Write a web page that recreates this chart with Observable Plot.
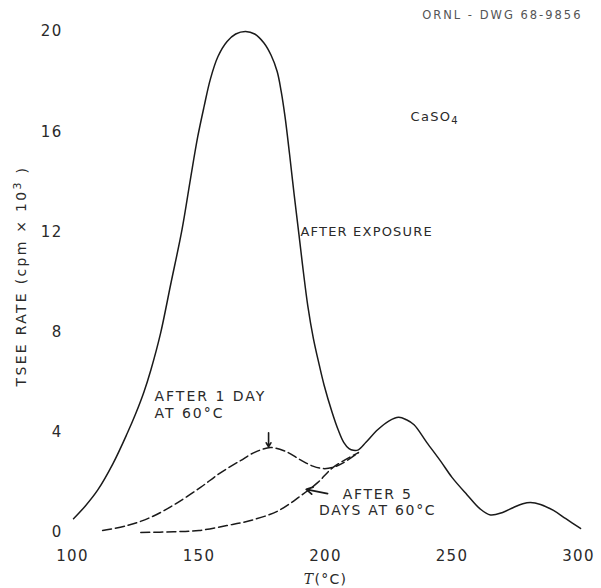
<!DOCTYPE html>
<html>
<head>
<meta charset="utf-8">
<script src="https://cdn.jsdelivr.net/npm/d3@7"></script>
<script src="https://cdn.jsdelivr.net/npm/@observablehq/plot@0.6"></script>
<style>
  html, body { margin: 0; padding: 0; background: white; }
</style>
</head>
<body>
<div id="chart"></div>
<script>
// Tick values
const xTicks = [100, 150, 200, 250, 300];
const yTicks = [0, 4, 8, 12, 16, 20];

// Solid curve: after exposure
const exposureT = [100.4, 105, 110, 116, 121.6, 125, 128.2, 131, 134.8, 138.8, 143.3, 146.6, 149.5, 152, 154.5, 157.5, 161.1, 164.5, 168.4, 172, 175.6, 178.5, 180.9, 182.5, 184, 185.8, 187.6, 189.5, 191.2, 193, 195.2, 197.5, 199.4, 202.6, 205, 207.2, 209.3, 211, 213, 216, 220.6, 225, 228.9, 232, 235, 240, 245.5, 250, 256, 261, 265.2, 270, 274.3, 278, 281, 285, 290.1, 295, 300.8];
const exposureY = [0.55, 1.05, 1.7, 2.75, 3.95, 4.75, 5.6, 6.5, 7.95, 9.9, 12.1, 14.1, 15.8, 17.0, 18.1, 19.0, 19.6, 19.9, 20.0, 19.9, 19.55, 19.05, 18.4, 17.6, 16.6, 15.1, 13.5, 11.9, 10.45, 9.05, 7.75, 6.7, 5.9, 4.8, 4.1, 3.6, 3.35, 3.28, 3.3, 3.6, 4.1, 4.45, 4.6, 4.5, 4.3, 3.6, 2.85, 2.2, 1.5, 0.95, 0.7, 0.8, 1.0, 1.15, 1.2, 1.12, 0.88, 0.55, 0.16];

// Dashed curve: after 1 day at 60 °C
const day1T = [111.9, 121.7, 130.8, 140, 150.6, 158, 166.4, 172, 178.3, 184, 190.1, 195, 199.2, 203, 207, 213];
const day1Y = [0.08, 0.28, 0.6, 1.1, 1.8, 2.35, 2.87, 3.2, 3.39, 3.25, 2.9, 2.65, 2.55, 2.6, 2.78, 3.19];

// Dashed curve: after 5 days at 60 °C
const day5T = [127, 140, 150, 161, 170, 181, 190, 197, 203, 213];
const day5Y = [0.0, 0.03, 0.08, 0.28, 0.47, 0.85, 1.45, 2.0, 2.6, 3.19];

const toRows = (ts, ys) => ts.map((t, i) => ({T: t, Y: ys[i]}));
const exposure = toRows(exposureT, exposureY);
const day1 = toRows(day1T, day1Y);
const day5 = toRows(day5T, day5Y);

const ink = "#1a1a1a";
const textInk = "#2a2a2a";

const chart = Plot.plot({
  width: 601,
  height: 588,
  marginLeft: 72,
  marginRight: 23,
  marginTop: 31,
  marginBottom: 56,
  style: {fontFamily: "'DejaVu Sans', sans-serif", fontSize: "15px", color: textInk, background: "white", letterSpacing: "1.3px"},
  x: {domain: [100, 300], ticks: xTicks, tickFormat: d => String(d), label: null, tickSize: 0, tickPadding: 18},
  y: {domain: [0, 20], ticks: yTicks, tickFormat: d => String(d), label: null, tickSize: 0, tickPadding: 10},
  marks: [
    Plot.line(exposure, {x: "T", y: "Y", curve: "catmull-rom", stroke: ink, strokeWidth: 1.5}),
    Plot.line(day1, {x: "T", y: "Y", curve: "catmull-rom", stroke: ink, strokeWidth: 1.5, strokeDasharray: "9,4"}),
    Plot.line(day5, {x: "T", y: "Y", curve: "catmull-rom", stroke: ink, strokeWidth: 1.5, strokeDasharray: "9,4"}),
    // arrows
    Plot.arrow([0], {x1: [177.5], y1: [3.98], x2: [177.5], y2: [3.42], stroke: ink, strokeWidth: 1.6, headLength: 7}),
    Plot.arrow([0], {x1: [200.8], y1: [1.55], x2: [192.4], y2: [1.72], stroke: ink, strokeWidth: 1.8, headLength: 6}),
    // annotations
    Plot.text(["AFTER EXPOSURE"], {x: [190.1], y: [12.0], textAnchor: "start", fontSize: 13, fill: textInk}),
    Plot.text(["CaSO4"], {x: [233.6], y: [16.6], textAnchor: "start", fontSize: 13, fill: textInk}),
    Plot.text(["AFTER 1 DAY\nAT 60°C"], {x: [132.4], y: [5.13], textAnchor: "start", fontSize: 14, lineHeight: 1.2, fill: textInk}),
    Plot.text(["AFTER 5\nDAYS AT 60°C"], {x: [220.6], y: [1.24], textAnchor: "middle", fontSize: 14, lineHeight: 1.15, fill: textInk}),
    Plot.text(["ORNL - DWG 68-9856"], {frameAnchor: "top-right", dx: 4, dy: -16, textAnchor: "end", lineAnchor: "middle", fontSize: 11.5, fill: "#555"}),
    // axis titles
    Plot.text(["TSEE RATE (cpm × 10³ )"], {frameAnchor: "left", dx: -51, dy: -6, rotate: -90, textAnchor: "middle", lineAnchor: "middle", fontSize: 14, fill: textInk}),
    Plot.text(["T(°C)"], {frameAnchor: "bottom", dy: 47, textAnchor: "middle", lineAnchor: "middle", fontSize: 14, fill: textInk})
  ]
});

document.getElementById("chart").appendChild(chart);

// Fine styling of a few labels (matched by their text)
const svg = d3.select(chart);
const byText = (s) => svg.selectAll("text").filter(function() { return this.textContent === s; });
const byPrefix = (s) => svg.selectAll("text").filter(function() { return this.textContent.startsWith(s); });

byText("TSEE RATE (cpm × 10³ )").style("letter-spacing", "2.3px").each(function() {
  const t = d3.select(this);
  t.text(null);
  t.append("tspan").text("TSEE RATE (cpm × 10");
  t.append("tspan").attr("dy", "-0.45em").attr("font-size", "11px").text("3");
  t.append("tspan").attr("dy", "0.45em").text(" )");
});
byText("CaSO4").each(function() {
  const t = d3.select(this);
  t.text(null);
  t.append("tspan").text("CaSO");
  t.append("tspan").attr("dy", "0.35em").attr("font-size", "10px").text("4");
});
byText("ORNL - DWG 68-9856").style("letter-spacing", "2px");
byText("AFTER EXPOSURE").style("letter-spacing", "1.2px");
byPrefix("AFTER 1 DAY").style("letter-spacing", "2px");
byPrefix("AFTER 5").style("letter-spacing", "1.7px");
byText("T(°C)").each(function() {
  const t = d3.select(this);
  t.text(null);
  t.append("tspan").attr("font-style", "italic").attr("font-family", "'DejaVu Serif', serif").text("T");
  t.append("tspan").text("(°C)");
});
</script>
</body>
</html>
